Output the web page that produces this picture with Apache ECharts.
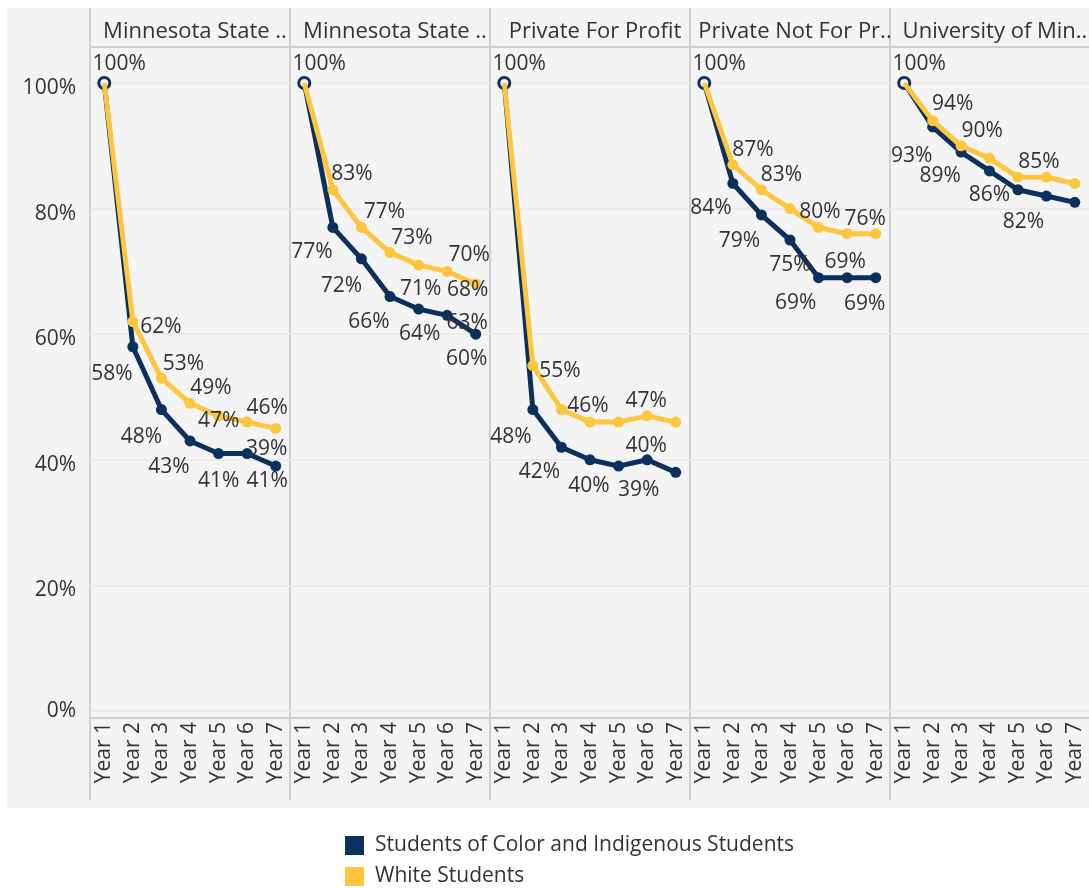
<!DOCTYPE html>
<html>
<head>
<meta charset="utf-8">
<script src="https://cdn.jsdelivr.net/npm/echarts@6/dist/echarts.min.js"></script>
<style>
  html, body { margin: 0; padding: 0; background: #fff; }
  #chart { width: 1089px; height: 888px; }
</style>
</head>
<body>
<div id="chart"></div>
<script>
// panel headers (already truncated in the original)
var panels = ['Minnesota State ..', 'Minnesota State ..', 'Private For Profit', 'Private Not For Pr..', 'University of Min..'];
var years = ['Year 1', 'Year 2', 'Year 3', 'Year 4', 'Year 5', 'Year 6', 'Year 7'];
var yTicks = [0, 20, 40, 60, 80, 100];

// retention rate, % of year 1 cohort
var colorRates = [
    [100, 58, 48, 43, 41, 41, 39],
    [100, 77, 72, 66, 64, 63, 60],
    [100, 48, 42, 40, 39, 40, 38],
    [100, 84, 79, 75, 69, 69, 69],
    [100, 93, 89, 86, 83, 82, 81]
];
var whiteRates = [
    [100, 62, 53, 49, 47, 46, 45],
    [100, 83, 77, 73, 71, 70, 68],
    [100, 55, 48, 46, 46, 47, 46],
    [100, 87, 83, 80, 77, 76, 76],
    [100, 94, 90, 88, 85, 85, 84]
];

// where each value label sits relative to its point (null = not labelled)
var colorLabelPos = [
    [[15, -19], [-21, 27], [-20, 27], [-21, 26], [0, 27], [20, 27], [-9, -17]],
    [[15, -19], [-21, 25], [-20, 27], [-21, 25], [1, 25], [20, 8], [-9, 25]],
    [[15, -19], [-22, 27], [-22, 25], [-1, 26], [20, 24], [-1, -14], null],
    [[15, -19], [-22, 25], [-22, 26], [0, 25], [-23, 25], [-2, -16], [-11, 26]],
    [[15, -19], [-21, 29], [-21, 24], [0, 24], null, [-23, 26], null]
];
var whiteLabelPos = [
    [null, [28, 5], [22, -14], [21, -15], [0, 5], [20, -14], null],
    [null, [19, -16], [23, -15], [22, -15], [2, 24], [22, -16], [-8, 6]],
    [null, [27, 5], null, [-2, -16], null, [-1, -15], null],
    [null, [20, -15], [20, -15], [30, 3], null, [18, -15], null],
    [null, [20, -17], [21, -15], null, [21, -15], null, null]
];

var NAVY = '#0b305d';
var GOLD = '#fec53f';
var FONT = '"Open Sans", sans-serif';
var FS = 21;
var TXT = '#333';
var LINE = '#cfcfcf';

var chart = echarts.init(document.getElementById('chart'));

var grids = [], xAxes = [], yAxes = [], series = [], titles = [];

function points(vals, pos, first) {
    return vals.map(function (v, i) {
        var item = { value: v };
        if (i === 0) {
            if (first === 'ring') {
                item.itemStyle = { color: '#f4f4f4', borderColor: NAVY, borderWidth: 3 };
            } else {
                item.symbol = 'none';
            }
        }
        if (pos[i]) {
            item.label = { show: true };
        }
        return item;
    });
}

function placer(pos) {
    return function (p) {
        var o = pos[p.dataIndex];
        return o ? { dx: o[0], dy: o[1] } : {};
    };
}

panels.forEach(function (name, i) {
    var left = 90 + i * 200;
    grids.push({ left: left, top: 83, width: 200, height: 628 });
    titles.push({
        text: name, left: left + 100, top: 16, textAlign: 'center',
        textStyle: { fontFamily: FONT, fontSize: 22, fontWeight: 'normal', color: TXT }
    });
    xAxes.push({
        type: 'category', gridIndex: i, data: years, boundaryGap: true,
        axisLine: { show: false }, axisTick: { show: false },
        axisLabel: { rotate: 90, margin: 11, fontFamily: FONT, fontSize: FS, color: TXT, interval: 0 }
    });
    yAxes.push({
        type: 'value', gridIndex: i, min: 0, max: 100, interval: 20,
        axisLine: { show: false }, axisTick: { show: false },
        splitLine: { lineStyle: { color: '#e9e9e9', width: 1.5 } },
        axisLabel: {
            show: i === 0, margin: 14, fontFamily: FONT, fontSize: FS, color: TXT,
            formatter: function (v) {
                if (yTicks.indexOf(v) < 0) return '';
                return v === 0 ? '{z|0%}' : '{n|' + v + '%}';
            },
            rich: {
                z: { fontFamily: FONT, fontSize: FS, color: TXT },
                n: { fontFamily: FONT, fontSize: FS, color: TXT, padding: [10, 0, 0, 0] }
            }
        }
    });
    var lbl = {
        show: false, position: 'inside', fontFamily: FONT, fontSize: FS, color: TXT,
        formatter: function (p) { return p.value + '%'; }
    };
    series.push({
        name: 'White Students', type: 'line',
        xAxisIndex: i, yAxisIndex: i, data: points(whiteRates[i], whiteLabelPos[i], 'none'),
        symbol: 'circle', symbolSize: 11, color: GOLD,
        lineStyle: { width: 5, color: GOLD }, itemStyle: { color: GOLD },
        label: lbl, labelLayout: placer(whiteLabelPos[i]), z: 3
    });
    series.push({
        name: 'Students of Color and Indigenous Students', type: 'line',
        xAxisIndex: i, yAxisIndex: i, data: points(colorRates[i], colorLabelPos[i], 'ring'),
        symbol: 'circle', symbolSize: 11, color: NAVY,
        lineStyle: { width: 5, color: NAVY }, itemStyle: { color: NAVY },
        label: lbl, labelLayout: placer(colorLabelPos[i]), z: 2
    });
});

// panel frame: grey backdrop and dividers
var frame = [{
    type: 'rect', z: -10, silent: true,
    shape: { x: 7, y: 8, width: 1082, height: 800 },
    style: { fill: '#f4f4f4' }
}];
[90, 290, 490, 690, 890].forEach(function (x) {
    frame.push({ type: 'line', z: -5, silent: true,
        shape: { x1: x, y1: 8, x2: x, y2: 800 }, style: { stroke: LINE, lineWidth: 2 } });
});
[47, 718].forEach(function (y) {
    frame.push({ type: 'line', z: -5, silent: true,
        shape: { x1: 90, y1: y, x2: 1089, y2: y }, style: { stroke: LINE, lineWidth: 2 } });
});

option = {
    animation: false,
    backgroundColor: '#fff',
    title: titles,
    graphic: { elements: frame },
    grid: grids,
    xAxis: xAxes,
    yAxis: yAxes,
    legend: {
        orient: 'vertical', left: 345, top: 835, height: 80, padding: 0, icon: 'rect',
        itemWidth: 19, itemHeight: 19, itemGap: 10,
        data: ['Students of Color and Indigenous Students', 'White Students'],
        textStyle: { fontFamily: FONT, fontSize: FS, lineHeight: 20, color: TXT, padding: [0, 0, 0, 6] }
    },
    series: series
};

chart.setOption(option);
</script>
</body>
</html>
